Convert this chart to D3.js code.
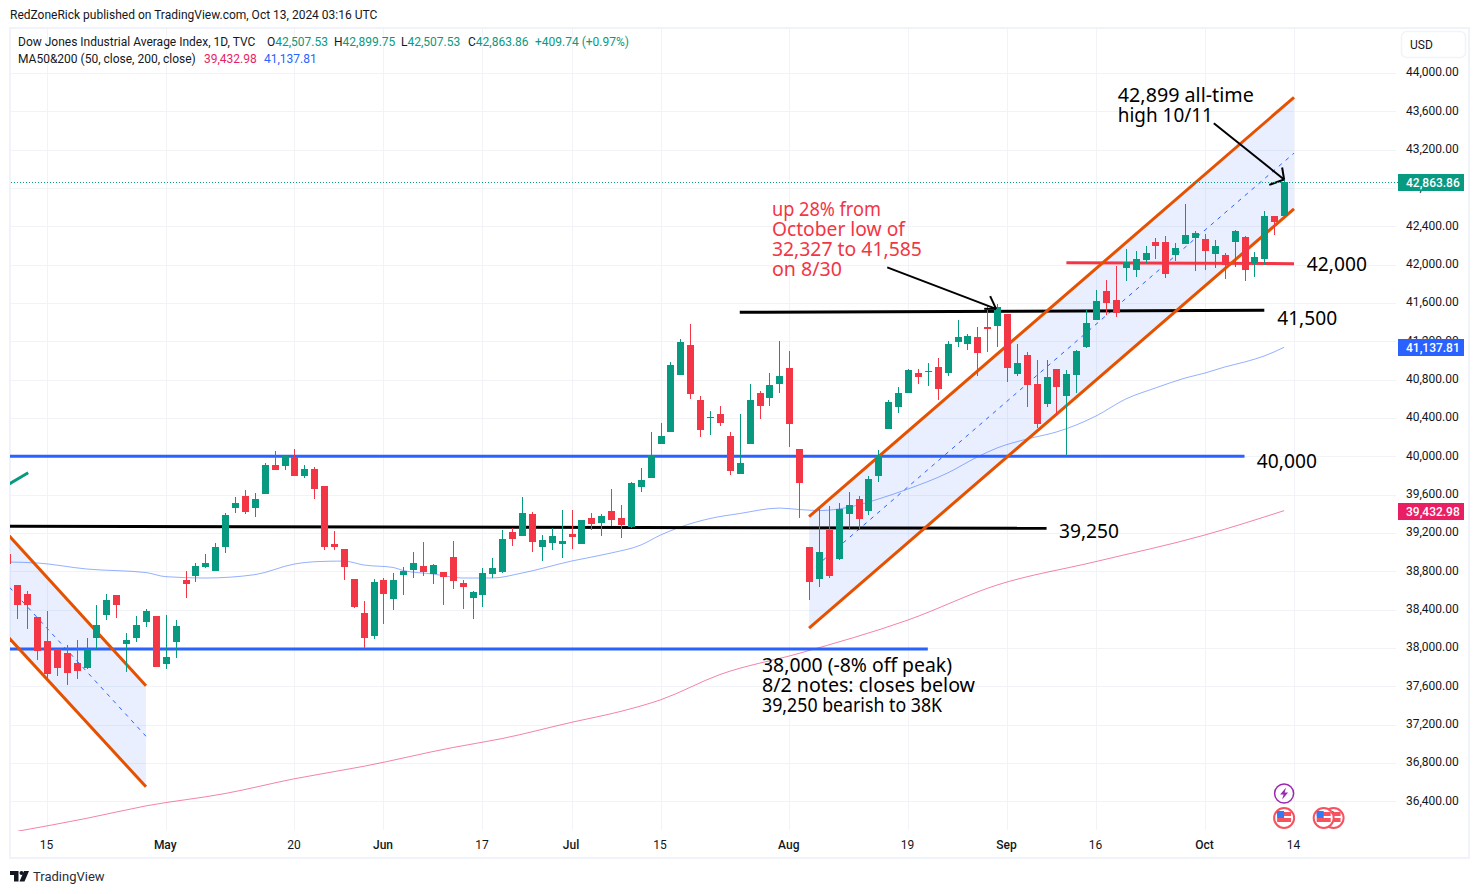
<!DOCTYPE html>
<html lang="en">
<head>
<meta charset="UTF-8">
<title>Dow Jones Industrial Average Index, 1D</title>
<script src="https://d3js.org/d3.v7.min.js"></script>
<style>
    html, body { margin: 0; padding: 0; background: #fff; }
    svg { display: block; }
    text { font-family: Roboto, sans-serif; fill: #131722; }
    .axis text { font-size: 12px; }
    .note { font-family: "Noto Sans", sans-serif; font-size: 19px; dominant-baseline: central; }
</style>
</head>
<body>
<svg width="1479" height="894"></svg>
<script>
// candles, first one is the clipped bar at the left edge
const opens = [38980,
    38657,38563,38323,38073,37986,37948,37843,37791,38104,38344,
    38553,38041,38104,38271,38334,37833,38062,38709,38751,38845,
    38803,39054,39460,39586,39460,39607,39909,39899,39993,39794,
    39867,39690,39085,39033,38720,38365,38125,38710,38512,38762,
    38814,38856,38772,38793,38950,38679,38522,38553,38772,38793,
    39211,39169,39398,39054,39096,39085,39190,39085,39357,39305,
    39430,39357,39263,39680,39774,40129,40254,40849,41162,40588,
    40400,40442,40212,39816,40129,40661,40609,40755,40922,40076,
    39054,38720,39231,38929,39398,39555,39429,39795,40285,40515,
    40661,40869,40880,40932,40869,41193,41172,41245,41349,41360,
    41485,40859,41057,40755,40546,40911,40629,40848,41141,41423,
    41725,41631,41965,41944,42049,42236,42236,42101,42216,42278,
    42268,42111,42101,42236,42289,42017,42059,42508,42507.53];
const highs = [39100,
    38657,38594,38323,38386,37986,38031,38083,38104,38448,38563,
    38553,38156,38334,38407,38334,38344,38292,38803,38887,38981,
    39095,39408,39575,39648,39617,39930,40055,40013,40076,39909,
    39888,39690,39221,39033,38720,38490,38720,38731,38783,38846,
    39002,39106,38877,38793,39117,38710,38595,38835,38939,39231,
    39252,39576,39419,39179,39252,39440,39440,39336,39409,39398,
    39659,39492,39732,39878,40254,40348,40984,41224,41381,40630,
    40473,40525,40254,40442,40755,40682,40870,41204,41099,40076,
    39054,39461,39482,39513,39628,39586,39795,40066,40588,40723,
    40911,40911,40974,41026,41203,41422,41276,41349,41579,41585,
    41485,41172,41088,41005,41005,40911,40901,41109,41537,41736,
    41840,41986,42163,42143,42195,42278,42299,42226,42633,42351,
    42320,42257,42122,42362,42299,42132,42560,42508,42899.75];
const lows = [38800,
    38302,38198,37874,37683,37708,37614,37676,37781,37986,38292,
    38313,37749,38062,38219,37802,37781,37895,38521,38688,38834,
    38803,38991,39408,39398,39367,39607,39857,39857,39794,39774,
    39554,39022,39022,38709,38417,38000,38094,38251,38397,38553,
    38731,38752,38668,38449,38616,38407,38303,38428,38731,38783,
    39065,39169,39002,38908,39023,38939,39033,39085,39232,39169,
    39273,39148,39252,39628,39774,40129,40254,40849,40598,40202,
    40223,40317,39805,39816,40129,40390,40525,40661,40098,39356,
    38501,38636,38730,38918,39231,39231,39388,39732,40285,40452,
    40661,40755,40734,40588,40838,41141,41109,40838,41088,41141,
    40775,40838,40515,40295,40515,40431,39999,40661,41130,41423,
    41475,41454,41829,41871,42017,42059,41861,42038,42216,41934,
    41944,41965,41850,41976,41829,41871,41996,42309,42507.53];
const closes = [38876,
    38448,38448,37968,37728,37791,37739,37760,37989,38240,38501,
    38448,38083,38240,38386,37802,37906,38229,38668,38855,38887,
    39054,39387,39513,39419,39554,39909,39857,40007,39794,39867,
    39659,39054,39054,38845,38428,38104,38688,38564,38710,38804,
    38887,38793,38866,38741,38699,38637,38585,38783,38835,39138,
    39138,39409,39106,39127,39169,39117,39158,39336,39294,39378,
    39336,39284,39722,39753,40014,40212,40953,41193,40651,40275,
    40411,40348,39847,39931,40588,40525,40744,40838,40338,39722,
    38689,39002,38751,39450,39492,39346,39763,40003,40567,40661,
    40901,40828,40890,40702,41172,41245,41255,41078,41328,41558,
    40921,40974,40744,40337,40828,40723,40859,41099,41391,41621,
    41600,41496,42028,42059,42122,42195,41903,42174,42309,42330,
    42143,42195,41996,42351,41944,42080,42508,42445,42863.86];

// moving averages, sampled at bar numbers
const ma50Days = [-1,2,7,13,15,19,24,28,30,33,35,38,39,42,45,48,51,56,60,63,65,67,70,73,77,79,81,83,85,87,90,94,97,99,102,105,107,109,112,115,118,120,122,124,126,128];
const ma50Values = [38897,38887,38824,38787,38744,38730,38765,38876,38900,38907,38866,38840,38808,38772,38730,38730,38782,38907,38991,39074,39179,39262,39351,39403,39460,39445,39434,39450,39492,39554,39659,39826,39993,40087,40180,40254,40327,40421,40598,40713,40817,40869,40932,40984,41047,41137.81];
const ma200Days = [0,7,13,21,28,35,44,49,56,61,65,71,79,90,99,109,120,128];
const ma200Values = [36087,36222,36352,36481,36635,36765,36961,37055,37224,37339,37459,37723,37944,38292,38657,38902,39179,39432.98];

// axes
const priceTicks = d3.range(36400, 44400, 400);
const timeDays = [3,15,28,37,47,56,65,78,90,100,109,120,129];
const timeLabels = ["15","May","20","Jun","17","Jul","15","Aug","19","Sep","16","Oct","14"];
const lastPrice = 42863.86, ma50Last = 41137.81, ma200Last = 39432.98;

// drawings: flat levels, channels, arrows, notes
const levelFrom = [-2,-2,-2,73,106];
const levelTo = [124,92,104,126,129];
const levelStart = [40000,37990,39270,41503,42020];
const levelEnd = [40000,37990,39249,41524,42010];
const levelColors = ["#2962ff","#2962ff","#000000","#000000","#f23645"];

const channelFrom = [-2,80];
const channelTo = [13,129];
const channelTopStart = [39304,39370];
const channelTopEnd = [37606,43746];
const channelLowStart = [38236,38208];
const channelLowEnd = [36552,42581];

const arrowFrom = [[87.9,41971],[120.9,43476]];
const arrowTip = [[98.9,41539],[128,42889]];
const arrowBarbs = [[[98.3,41671],[97.7,41539]],[[127.8,43014],[126.5,42833]]];
const stubLine = [[-1,39701],[1.1,39828]];

const notes = [
    {lines:["42,000"], widths:[60], day:130.3, prices:[42007], color:"#000"},
    {lines:["41,500"], widths:[60], day:127.3, prices:[41443], color:"#000"},
    {lines:["40,000"], widths:[60], day:125.25, prices:[39951], color:"#000"},
    {lines:["39,250"], widths:[60], day:105.25, prices:[39220], color:"#000"},
    {lines:["38,000 (-8% off peak)","8/2 notes: closes below","39,250 bearish to 38K"], widths:[190,213,180], day:75.25, prices:[37822,37613,37405], color:"#000"},
    {lines:["up 28% from","October low of","32,327 to 41,585","on 8/30"], widths:[109,133,150,70], day:76.25, prices:[42580,42371,42163,41954], color:"#f23645"},
    {lines:["42,899 all-time","high 10/11"], widths:[136,95], day:111.2, prices:[43770,43561], color:"#000"}
];

const green = "#089981", red = "#f23645", blue = "#2962ff", pink = "#e91e63", orange = "#e65100";

const svg = d3.select("svg");
const x = d3.scaleLinear().domain([0, 129]).range([17.3, 1294]);
const y = d3.scaleLinear().domain([36400, 44000]).range([801.3, 73]);

// frame
svg.append("rect").attr("x", 10).attr("y", 28).attr("width", 1459).attr("height", 830)
    .attr("fill", "none").attr("stroke", "#f0f3fa").attr("stroke-width", 2);

svg.append("clipPath").attr("id", "pane").append("rect")
    .attr("x", 10).attr("y", 29).attr("width", 1388).attr("height", 802);

// grid
svg.append("g").selectAll("line").data(priceTicks).enter().append("line")
    .attr("x1", 11).attr("x2", 1396)
    .attr("y1", d => Math.round(y(d)) + 0.5).attr("y2", d => Math.round(y(d)) + 0.5)
    .attr("stroke", "#f1f3f6");
svg.append("g").selectAll("line").data(timeDays).enter().append("line")
    .attr("y1", 29).attr("y2", 830)
    .attr("x1", d => Math.round(x(d)) + 0.5).attr("x2", d => Math.round(x(d)) + 0.5)
    .attr("stroke", "#f1f3f6");

const pane = svg.append("g").attr("clip-path", "url(#pane)");
const lineGen = d3.line().x(d => x(d[0])).y(d => y(d[1]));

// channel fills and their mid lines
channelFrom.forEach((from, i) => {
    const to = channelTo[i];
    pane.append("path")
        .attr("d", lineGen([[from, channelTopStart[i]], [to, channelTopEnd[i]], [to, channelLowEnd[i]], [from, channelLowStart[i]]]) + "Z")
        .attr("fill", blue).attr("fill-opacity", 0.1);
    pane.append("path")
        .attr("d", lineGen([[from, (channelTopStart[i] + channelLowStart[i]) / 2], [to, (channelTopEnd[i] + channelLowEnd[i]) / 2]]))
        .attr("fill", "none").attr("stroke", blue).attr("stroke-width", 1).attr("stroke-dasharray", "4 5");
});

// moving averages
const smooth = d3.line().x(d => x(d[0])).y(d => y(d[1])).curve(d3.curveMonotoneX);
pane.append("path").attr("d", smooth(d3.zip(ma200Days, ma200Values)))
    .attr("fill", "none").attr("stroke", pink).attr("stroke-opacity", 0.55);
pane.append("path").attr("d", smooth(d3.zip(ma50Days, ma50Values)))
    .attr("fill", "none").attr("stroke", blue).attr("stroke-opacity", 0.5);

// flat levels
levelFrom.forEach((from, i) => {
    pane.append("path").attr("d", lineGen([[from, levelStart[i]], [levelTo[i], levelEnd[i]]]))
        .attr("stroke", levelColors[i]).attr("stroke-width", 3).attr("fill", "none");
});

// channel edges
channelFrom.forEach((from, i) => {
    [[channelTopStart[i], channelTopEnd[i]], [channelLowStart[i], channelLowEnd[i]]].forEach(p => {
        pane.append("path").attr("d", lineGen([[from, p[0]], [channelTo[i], p[1]]]))
            .attr("stroke", orange).attr("stroke-width", 3).attr("fill", "none");
    });
});
pane.append("path").attr("d", lineGen(stubLine)).attr("stroke", green).attr("stroke-width", 3).attr("fill", "none");

// last price line
svg.append("line").attr("x1", 11).attr("x2", 1398)
    .attr("y1", Math.round(y(lastPrice)) + 0.5).attr("y2", Math.round(y(lastPrice)) + 0.5)
    .attr("stroke", green).attr("stroke-dasharray", "1 2");

// candles
const candles = d3.range(opens.length);
const cx = i => Math.round(x(i - 1));
pane.append("g").selectAll("rect").data(candles).enter().append("rect")
    .attr("x", cx).attr("width", 1)
    .attr("y", i => y(highs[i])).attr("height", i => y(lows[i]) - y(highs[i]))
    .attr("fill", i => closes[i] >= opens[i] ? green : red)
    .attr("shape-rendering", "crispEdges");
pane.append("g").selectAll("rect").data(candles).enter().append("rect")
    .attr("x", i => cx(i) - 3).attr("width", 7)
    .attr("y", i => y(Math.max(opens[i], closes[i])))
    .attr("height", i => Math.max(1, Math.abs(y(opens[i]) - y(closes[i]))))
    .attr("fill", i => closes[i] >= opens[i] ? green : red)
    .attr("shape-rendering", "crispEdges");

// arrows
arrowFrom.forEach((from, i) => {
    const line = pane.append("g").attr("stroke", "#000").attr("stroke-width", 2).attr("fill", "none");
    line.append("path").attr("d", lineGen([from, arrowTip[i]]));
    arrowBarbs[i].forEach(b => line.append("path").attr("d", lineGen([b, arrowTip[i]])));
});

// notes
notes.forEach(n => {
    n.lines.forEach((t, k) => {
        svg.append("text").attr("class", "note").attr("x", x(n.day)).attr("y", y(n.prices[k]))
            .attr("textLength", n.widths[k]).attr("lengthAdjust", "spacingAndGlyphs")
            .style("fill", n.color).text(t);
    });
});

// price axis
const yAxis = svg.append("g").attr("class", "axis").attr("transform", "translate(1406,-1)")
    .call(d3.axisRight(y).tickValues(priceTicks).tickFormat(d3.format(",.2f")).tickSize(0).tickPadding(0));
yAxis.select(".domain").remove();

// time axis
const xAxis = svg.append("g").attr("class", "axis").attr("transform", "translate(-1,840)")
    .call(d3.axisBottom(x).tickValues(timeDays).tickFormat((d, i) => timeLabels[i]).tickSize(0).tickPadding(0));
xAxis.select(".domain").remove();
xAxis.selectAll("text").attr("fill", "#131722")
    .style("font-weight", (d, i) => isNaN(timeLabels[i]) ? 500 : 400);

// price tags
[[lastPrice, green], [ma50Last, blue], [ma200Last, pink]].forEach(t => {
    svg.append("rect").attr("x", 1398).attr("width", 66).attr("height", 17)
        .attr("y", Math.round(y(t[0])) - 8).attr("fill", t[1]);
    svg.append("text").attr("x", 1406).attr("y", Math.round(y(t[0])) + 4.5)
        .style("fill", "#fff").style("font-size", "12px").style("font-weight", 500)
        .text(d3.format(",.2f")(t[0]));
});

// USD box
svg.append("rect").attr("x", 1401.5).attr("y", 31.5).attr("width", 64).attr("height", 26).attr("rx", 5)
    .attr("fill", "#fff").attr("stroke", "#f0f3fa").attr("stroke-width", 1.5);
svg.append("text").attr("x", 1410).attr("y", 49).style("font-size", "12px").text("USD");

// header and legend
svg.append("text").attr("x", 10).attr("y", 19).style("font-size", "12px")
    .text("RedZoneRick published on TradingView.com, Oct 13, 2024 03:16 UTC");
svg.append("text").attr("x", 18).attr("y", 46).style("font-size", "12px")
    .text("Dow Jones Industrial Average Index, 1D, TVC");
const ohlcLetters = ["O","H","L","C"];
const ohlcValues = [42507.53, 42899.75, 42507.53, 42863.86];
ohlcLetters.forEach((c, i) => {
    const t = svg.append("text").attr("x", 267 + i * 67).attr("y", 46).style("font-size", "12px").text(c);
    t.append("tspan").style("fill", green).text(d3.format(",.2f")(ohlcValues[i]));
});
svg.append("text").attr("x", 535).attr("y", 46).style("font-size", "12px").style("fill", green).text("+409.74 (+0.97%)");
svg.append("text").attr("x", 18).attr("y", 63).style("font-size", "12px").text("MA50&200 (50, close, 200, close)");
svg.append("text").attr("x", 204).attr("y", 63).style("font-size", "12px").style("fill", pink).text(d3.format(",.2f")(ma200Last));
svg.append("text").attr("x", 264).attr("y", 63).style("font-size", "12px").style("fill", blue).text(d3.format(",.2f")(ma50Last));

// event icons under the bars
const flagDays = [128, 133, 132];
flagDays.forEach(d => {
    const g = svg.append("g").attr("transform", `translate(${x(d)},818)`);
    g.append("circle").attr("r", 10).attr("fill", "#fff").attr("stroke", "#f7525f").attr("stroke-width", 2);
    g.append("rect").attr("x", -7).attr("y", -6).attr("width", 14).attr("height", 4).attr("fill", "#f7525f");
    g.append("rect").attr("x", -7).attr("y", 0).attr("width", 14).attr("height", 4).attr("fill", "#f7525f");
    g.append("rect").attr("x", -7).attr("y", -7).attr("width", 7).attr("height", 7).attr("fill", "#3179f5");
});
const bolt = svg.append("g").attr("transform", `translate(${x(128)},793.5)`);
bolt.append("circle").attr("r", 9.5).attr("fill", "#fff").attr("stroke", "#9c27b0").attr("stroke-width", 1.5);
bolt.append("path").attr("d", "M2,-6 L-4,1 L-0.5,1 L-2,6 L4,-1 L0.5,-1 Z").attr("fill", "#9c27b0");

// TradingView logo
const logo = svg.append("g").attr("transform", "translate(10,871)").attr("fill", "#131722");
logo.append("path").attr("d", "M0,0 H8.5 V10.5 H4 V4 H0 Z");
logo.append("circle").attr("cx", 11.5).attr("cy", 2).attr("r", 2);
logo.append("path").attr("d", "M14,0 H19 L14.5,10.5 H9.5 Z");
svg.append("text").attr("x", 33).attr("y", 881).style("font-size", "13px").style("fill", "#2a2e39").text("TradingView");
</script>
</body>
</html>
